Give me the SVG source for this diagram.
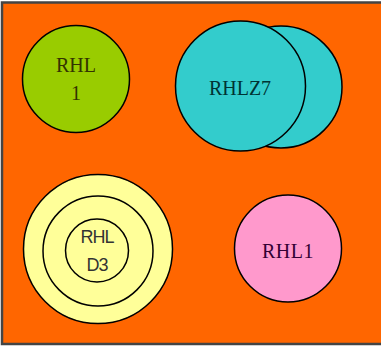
<svg xmlns="http://www.w3.org/2000/svg" width="381" height="346" viewBox="0 0 381 346">
<style>
.c{stroke:#000;stroke-width:1.5}
.serif{font-family:"Liberation Serif","Times New Roman",serif;font-size:20px;text-anchor:middle}
.sans{font-family:"Liberation Sans",Arial,sans-serif;font-size:18px;text-anchor:middle;letter-spacing:-1px}
</style>
<rect x="2" y="2.5" width="390" height="341.5" fill="#FF6600" stroke="#444" stroke-width="2.5"/>
<g id="connectors"/>
<g id="node-rhl1-green">
<circle class="c" cx="76" cy="79" r="53.5" fill="#99CC00"/>
<text class="serif" x="76" y="72" fill="#333300">RHL</text>
<text class="serif" x="76" y="100" fill="#333300">1</text>
</g>
<g id="node-rhlz7">
<circle class="c" cx="281" cy="87" r="61" fill="#33CCCC"/>
<circle class="c" cx="240.5" cy="86" r="65" fill="#33CCCC"/>
<text class="serif" x="240" y="95" fill="#003333">RHLZ7</text>
</g>
<g id="node-rhld3">
<circle class="c" cx="98" cy="249" r="74.5" fill="#FFFF99"/>
<circle class="c" cx="98" cy="251" r="55" fill="#FFFF99"/>
<circle class="c" cx="97" cy="250.5" r="31.5" fill="#FFFF99"/>
<text class="sans" x="97" y="242.5" fill="#333333">RHL</text>
<text class="sans" x="97" y="270.5" fill="#333333">D3</text>
</g>
<g id="node-rhl1-pink">
<circle class="c" cx="288" cy="248.5" r="53.5" fill="#FF99CC"/>
<text class="serif" x="288" y="258" fill="#330033" letter-spacing="0.5">RHL1</text>
</g>
</svg>
